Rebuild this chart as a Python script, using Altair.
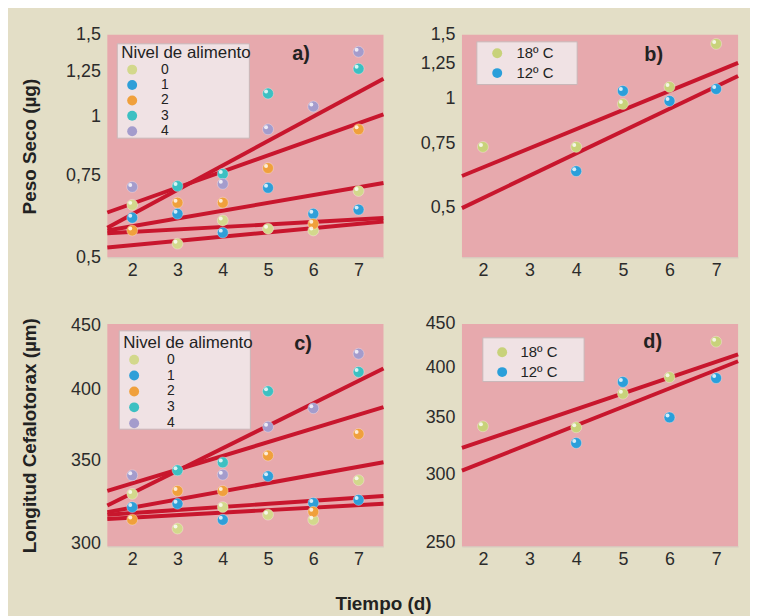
import altair as alt
import pandas as pd

# ---------------- data ----------------
levels = ["0", "1", "2", "3", "4"]
level_colors = ["#d3d88c", "#2f9fd8", "#f0a03c", "#3cc0c2", "#a49ccc"]
temps = ["18º C", "12º C"]
temp_colors = ["#c8d27a", "#2a9fda"]

# panel a) dry weight (µg) by food level
a_days0 = [2, 3, 4, 5, 6, 7]
a_lvl0 = [0.648, 0.535, 0.600, 0.576, 0.571, 0.694]
a_days1 = [2, 3, 4, 5, 6, 7]
a_lvl1 = [0.608, 0.620, 0.565, 0.705, 0.620, 0.633]
a_days2 = [2, 3, 4, 5, 6, 7]
a_lvl2 = [0.571, 0.655, 0.655, 0.777, 0.590, 0.941]
a_days3 = [3, 4, 5, 7]
a_lvl3 = [0.711, 0.755, 1.123, 1.269]
a_days4 = [2, 4, 5, 6, 7]
a_lvl4 = [0.708, 0.719, 0.941, 1.053, 1.380]
a_line_x = [1.45, 7.55]
a_line_start = [0.579, 0.624, 0.571, 0.563, 0.525]
a_line_end = [1.208, 1.013, 0.722, 0.607, 0.597]

# panel b) dry weight by temperature
b_days18 = [2, 4, 5, 6, 7]
b_t18 = [0.734, 0.734, 0.965, 1.076, 1.416]
b_days12 = [4, 5, 6, 7]
b_t12 = [0.629, 1.049, 0.984, 1.062]
b_line_x = [1.55, 7.47]
b_line_start = [0.610, 0.497]
b_line_end = [1.254, 1.154]

# panel c) cephalothorax length (µm) by food level
c_days0 = [2, 3, 4, 5, 6, 7]
c_lvl0 = [329, 308.4, 321, 316.5, 313.5, 337.5]
c_days1 = [2, 3, 4, 5, 6, 7]
c_lvl1 = [321, 323, 313.5, 340, 323.5, 325.3]
c_days2 = [2, 3, 4, 5, 6, 7]
c_lvl2 = [313.6, 330.8, 330.8, 353.4, 318.2, 367.9]
c_days3 = [3, 4, 5, 7]
c_lvl3 = [343.8, 348.9, 398.4, 413]
c_days4 = [2, 4, 5, 6, 7]
c_lvl4 = [340.6, 341, 372.9, 386, 427.3]
c_line_x = [1.45, 7.55]
c_line_start = [322, 330.8, 318, 316.5, 314]
c_line_end = [415.6, 386.8, 349, 327.7, 323]

# panel d) cephalothorax length by temperature
d_days18 = [2, 4, 5, 6, 7]
d_t18 = [341.7, 340.8, 373, 390, 429]
d_days12 = [4, 5, 6, 7]
d_t12 = [326.7, 385, 350, 389]
d_line_x = [1.55, 7.47]
d_line_start = [322.4, 303.3]
d_line_end = [414.6, 407]

x_ticks = [2, 3, 4, 5, 6, 7]
w_ticks = [0.5, 0.75, 1, 1.25, 1.5]
c_ticks = [300, 350, 400, 450]
d_ticks = [250, 300, 350, 400, 450]

RED = "#c8162d"
FONT = "Liberation Sans"


def points_df(groups):
    rows = []
    for name, xs, ys in groups:
        for x, y in zip(xs, ys):
            rows.append({"dia": x, "valor": y, "grupo": name})
    return pd.DataFrame(rows)


def lines_df(xs, starts, ends):
    rows = []
    for i, (s, e) in enumerate(zip(starts, ends)):
        rows.append({"dia": xs[0], "valor": s, "linea": i})
        rows.append({"dia": xs[1], "valor": e, "linea": i})
    return pd.DataFrame(rows)


def panel(pts, lns, xdom, ydom, yticks, ytitle, dom, rng, legend, box, tag, tagpos):
    xenc = alt.X("dia:Q", scale=alt.Scale(domain=xdom, nice=False, zero=False),
                 axis=alt.Axis(values=x_ticks, title=None, format="d"))
    yaxis = alt.Axis(values=yticks, title=ytitle,
                     labelExpr="replace(toString(datum.value), '.', ',')")
    yenc = alt.Y("valor:Q", scale=alt.Scale(type="log", domain=ydom, nice=False, zero=False),
                 axis=yaxis)
    bx0, bx1, by0, by1 = box
    boxl = alt.Chart(pd.DataFrame({"k": [0]})).mark_rect(
        fill="#f0e2e4", stroke="#c9b6b8", strokeWidth=1
    ).encode(x=alt.value(bx0), x2=alt.value(bx1), y=alt.value(by0), y2=alt.value(by1))
    line = alt.Chart(lns).mark_line(color=RED, strokeWidth=4, strokeCap="butt").encode(
        x=xenc, y=yenc, detail="linea:N")
    pt = alt.Chart(pts).mark_circle(size=120, opacity=1, stroke="#ffffff",
                                     strokeWidth=0.6, strokeOpacity=0.5).encode(
        x=xenc, y=yenc,
        color=alt.Color("grupo:N", scale=alt.Scale(domain=dom, range=rng), legend=legend))
    hl = alt.Chart(pts).mark_circle(size=16, color="white", opacity=0.8,
                                     xOffset=-2, yOffset=-2).encode(x=xenc, y=yenc)
    txt = alt.Chart(pd.DataFrame({"t": [tag]})).mark_text(
        font=FONT, fontSize=20, fontWeight="bold", color="#222"
    ).encode(text="t:N", x=alt.value(tagpos[0]), y=alt.value(tagpos[1]))
    return alt.layer(boxl, line, pt, hl, txt).properties(width=278, height=224)


def food_legend(lx, ly, loff, rowpad):
    return alt.Legend(orient="none", legendX=lx, legendY=ly, title="Nivel de alimento",
                      titleFont=FONT, titleFontSize=17, titleFontWeight="normal",
                      titleColor="#222", titlePadding=1,
                      labelFont=FONT, labelFontSize=14, labelColor="#222",
                      labelOffset=loff, symbolType="circle", symbolSize=100,
                      symbolStrokeWidth=0, symbolOffset=4, rowPadding=rowpad, padding=4)


def temp_legend(lx, ly, loff):
    return alt.Legend(orient="none", legendX=lx, legendY=ly, title=None,
                      labelFont=FONT, labelFontSize=15, labelColor="#222",
                      labelOffset=loff, symbolType="circle", symbolSize=100,
                      symbolStrokeWidth=0, symbolOffset=0, rowPadding=4, padding=0)


pa = panel(points_df([("0", a_days0, a_lvl0), ("1", a_days1, a_lvl1), ("2", a_days2, a_lvl2),
                      ("3", a_days3, a_lvl3), ("4", a_days4, a_lvl4)]),
           lines_df(a_line_x, a_line_start, a_line_end),
           a_line_x, [0.5, 1.5], w_ticks, "Peso Seco (µg)", levels, level_colors,
           food_legend(10, 6, 22, 1.5), (10, 143, 9, 104), "a)", (195, 19))
pb = panel(points_df([("18º C", b_days18, b_t18), ("12º C", b_days12, b_t12)]),
           lines_df(b_line_x, b_line_start, b_line_end),
           b_line_x, [0.363, 1.5], w_ticks, None, temps, temp_colors,
           temp_legend(28, 11, 12), (15, 116, 7, 50), "b)", (193, 20))
pc = panel(points_df([("0", c_days0, c_lvl0), ("1", c_days1, c_lvl1), ("2", c_days2, c_lvl2),
                      ("3", c_days3, c_lvl3), ("4", c_days4, c_lvl4)]),
           lines_df(c_line_x, c_line_start, c_line_end),
           c_line_x, [298.3, 451.7], c_ticks, "Longitud Cefalotorax (µm)", levels, level_colors,
           food_legend(12, 7, 26, 2), (12, 144, 7, 106), "c)", (197, 20))
pd_ = panel(points_df([("18º C", d_days18, d_t18), ("12º C", d_days12, d_t12)]),
            lines_df(d_line_x, d_line_start, d_line_end),
            d_line_x, [247.4, 450], d_ticks, None, temps, temp_colors,
            temp_legend(33, 21, 11), (21, 123, 14, 58), "d)", (192, 18))

chart = alt.concat(
    pa, pb, pc, pd_, columns=2, bounds="flush", spacing={"row": 67, "column": 79}
).resolve_scale(
    x="independent", y="independent", color="independent"
).resolve_legend(color="independent").properties(
    title=alt.TitleParams("Tiempo (d)", orient="bottom", anchor="middle", font=FONT,
                          fontSize=19, fontWeight="bold", color="#222", offset=25),
    padding={"left": 12, "top": 16, "right": 4, "bottom": 0},
).configure(background="#e3dec6").configure_view(
    fill="#e7a9ad", stroke=None
).configure_axis(
    labelFont=FONT, labelFontSize=18, labelColor="#2b2b2b",
    titleFont=FONT, titleFontSize=19, titleFontWeight="bold", titleColor="#222",
    grid=False, ticks=False,
).configure_axisX(
    domainColor="#d4c7bd", domainWidth=1, labelPadding=4, minExtent=24, maxExtent=24,
).configure_axisY(
    domain=False, labelPadding=7, minExtent=46, maxExtent=46, titlePadding=22,
)

chart.save("out.html", embed_options={"renderer": "svg", "actions": False})
